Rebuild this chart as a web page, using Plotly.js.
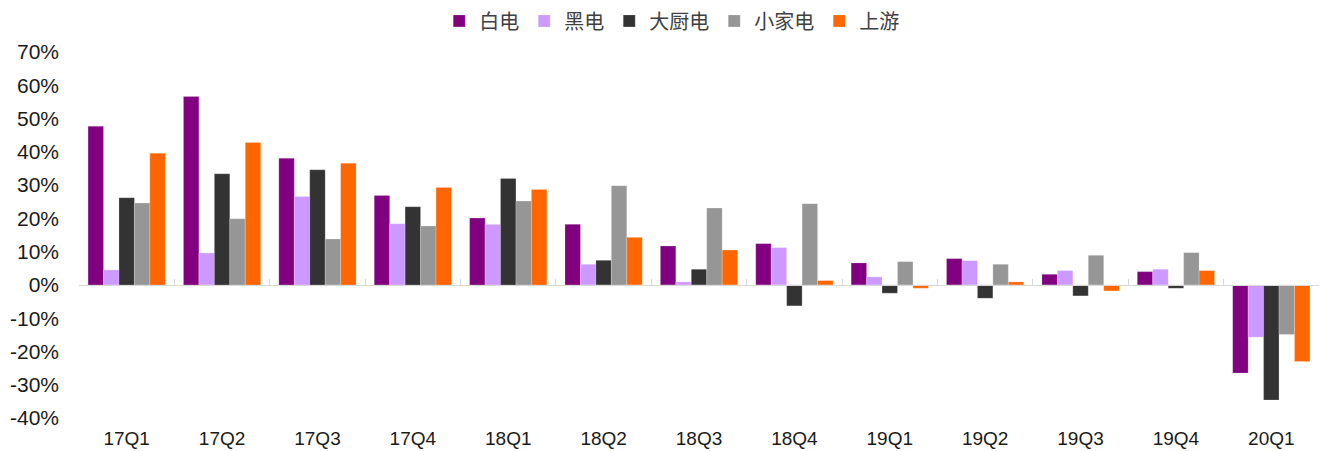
<!DOCTYPE html>
<html>
<head>
<meta charset="utf-8">
<script src="https://cdn.plot.ly/plotly-3.0.1.min.js"></script>
<style>
  html, body { margin: 0; padding: 0; background: #ffffff; }
  #chart { width: 1320px; height: 451px; }
</style>
</head>
<body>
<div id="chart"></div>
<script>
// Quarterly year-on-year growth by appliance segment
const quarters = ['17Q1','17Q2','17Q3','17Q4','18Q1','18Q2','18Q3','18Q4','19Q1','19Q2','19Q3','19Q4','20Q1'];

const whiteGoods   = [0.477, 0.566, 0.381, 0.269, 0.201, 0.182, 0.117, 0.124, 0.066, 0.079, 0.032, 0.040, -0.265];
const blackGoods   = [0.045, 0.096, 0.266, 0.184, 0.182, 0.062, 0.009, 0.112, 0.024, 0.073, 0.043, 0.047, -0.157];
const kitchen      = [0.262, 0.334, 0.346, 0.235, 0.320, 0.074, 0.047, -0.063, -0.025, -0.040, -0.033, -0.010, -0.346];
const smallAppl    = [0.246, 0.199, 0.138, 0.177, 0.252, 0.298, 0.231, 0.244, 0.070, 0.062, 0.089, 0.097, -0.149];
const upstream     = [0.396, 0.428, 0.366, 0.293, 0.287, 0.143, 0.105, 0.013, -0.010, 0.009, -0.018, 0.043, -0.230];

const seriesNames  = ['白电', '黑电', '大厨电', '小家电', '上游'];
const seriesValues = [whiteGoods, blackGoods, kitchen, smallAppl, upstream];
const seriesColors = ['#800080', '#cc99ff', '#333333', '#969696', '#ff6600'];

const yTickVals = [-0.4, -0.3, -0.2, -0.1, 0, 0.1, 0.2, 0.3, 0.4, 0.5, 0.6, 0.7];
const yTickText = ['-40%', '-30%', '-20%', '-10%', '0%', '10%', '20%', '30%', '40%', '50%', '60%', '70%'];

const traces = seriesNames.map((name, i) => ({
  type: 'bar',
  name: name,
  x: quarters,
  y: seriesValues[i],
  marker: {
    color: seriesColors[i],
    line: { color: 'rgba(255,255,255,0.35)', width: 0.6 }
  },
  hoverinfo: 'x+y+name'
}));

// Boundary tick positions for the axis line drawn through zero
const boundaryTicks = quarters.map((q, i) => i - 0.5).concat([quarters.length - 0.5]);

const yMin = -0.4, yMax = 0.7;

const layout = {
  width: 1320,
  height: 451,
  margin: { l: 79, r: 1, t: 52, b: 33 },
  paper_bgcolor: '#ffffff',
  plot_bgcolor: '#ffffff',
  barmode: 'group',
  bargap: 0.19,
  bargroupgap: 0,
  font: { family: 'Liberation Sans, Arial, sans-serif', color: '#000000' },
  showlegend: true,
  legend: {
    orientation: 'h',
    x: 0.478,
    xanchor: 'center',
    y: 1.085,
    yanchor: 'middle',
    yref: 'paper',
    font: { family: 'Noto Sans CJK SC, sans-serif', size: 20, color: '#404040' },
    itemwidth: 30,
    traceorder: 'normal',
    bgcolor: 'rgba(0,0,0,0)'
  },
  xaxis: {
    type: 'category',
    categoryarray: quarters,
    range: [-0.5, quarters.length - 0.5],
    showline: false,
    showgrid: false,
    zeroline: false,
    ticks: '',
    ticklabelstandoff: 7,
    tickfont: { family: 'Liberation Sans, Arial, sans-serif', size: 19, color: '#1a1a1a' },
    fixedrange: true
  },
  xaxis2: {
    overlaying: 'x',
    anchor: 'free',
    position: (0 - yMin) / (yMax - yMin),
    range: [-0.5, quarters.length - 0.5],
    showline: true,
    linecolor: '#d9d9d9',
    linewidth: 1,
    ticks: 'inside',
    ticklen: 6,
    tickwidth: 1,
    tickcolor: '#d9d9d9',
    tickmode: 'array',
    tickvals: boundaryTicks,
    showticklabels: false,
    showgrid: false,
    zeroline: false,
    fixedrange: true
  },
  yaxis: {
    range: [yMin, yMax],
    tickmode: 'array',
    tickvals: yTickVals,
    ticktext: yTickText,
    showgrid: false,
    zeroline: false,
    showline: false,
    ticks: '',
    ticklabelstandoff: 19,
    tickfont: { family: 'Liberation Sans, Arial, sans-serif', size: 21, color: '#1a1a1a' },
    fixedrange: true
  }
};

// Invisible carrier so the zero-line axis is laid out on the shared y scale
traces.push({
  type: 'scatter',
  mode: 'none',
  x: [-0.5, quarters.length - 0.5],
  y: [0, 0],
  xaxis: 'x2',
  yaxis: 'y',
  showlegend: false,
  hoverinfo: 'skip'
});

Plotly.newPlot('chart', traces, layout, { displayModeBar: false, staticPlot: true });
</script>
</body>
</html>
